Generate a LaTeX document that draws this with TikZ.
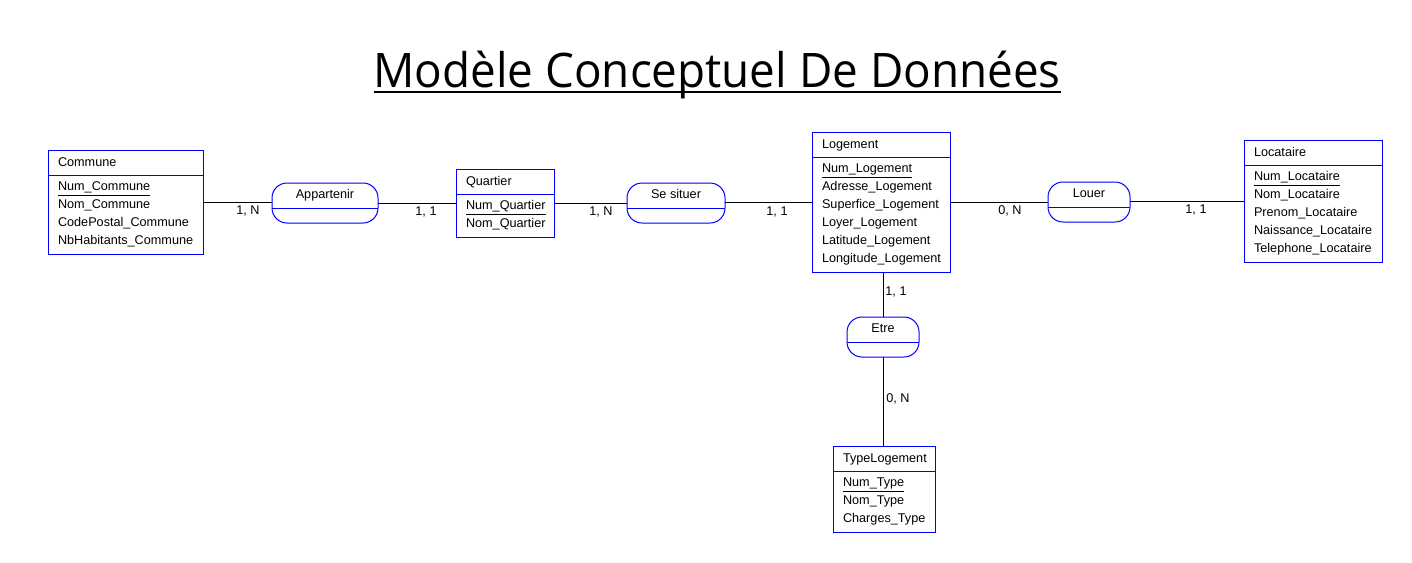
\documentclass[tikz,border=0pt]{standalone}
\usepackage{fontspec}
\setmainfont{Liberation Sans}
\newfontfamily\titlefont{Open Sans}
\begin{document}
\begin{tikzpicture}[x=0.75pt,y=-0.75pt,
  ent/.style={draw=blue,line width=0.75pt,rectangle,inner sep=0pt,outer sep=0pt,anchor=north west},
  rel/.style={draw=blue,line width=0.75pt,rectangle,rounded corners=11.25pt,inner sep=0pt,outer sep=0pt,anchor=north west,minimum height=30pt},
  sep/.style={draw=blue,line width=0.75pt},
  txt/.style={inner sep=0pt,outer sep=0pt,anchor=base west,font=\fontsize{9.5pt}{11pt}\selectfont},
  ctxt/.style={inner sep=0pt,outer sep=0pt,anchor=base,font=\fontsize{9.5pt}{11pt}\selectfont},
  link/.style={draw=black,line width=0.75pt},
  uline/.style={draw=black,line width=0.75pt}
]
\useasboundingbox (0,0) rectangle (1412,562);
\fill[white] (0,0) rectangle (1412,562);

% Title
\node[inner sep=0pt,outer sep=0pt,anchor=base,font=\titlefont\fontsize{35.7pt}{40pt}\selectfont] (title) at (717,87) {\scalebox{0.962}[1]{Modèle Conceptuel De Données}};
\draw[line width=1.9pt] ([yshift=-3.75pt]title.base west) -- ([yshift=-3.75pt]title.base east);

% Commune
\node[ent,minimum width=116.25pt,minimum height=78pt] (commune) at (48,150) {};
\draw[sep] (48,175) -- (203,175);
\node[txt] (communeT) at (58,166) {Commune};
\node[txt] (communeA) at (58,190) {Num\_Commune};
\node[txt] (communeB) at (58,208) {Nom\_Commune};
\node[txt] (communeC) at (58,226) {CodePostal\_Commune};
\node[txt] (communeD) at (58,244) {NbHabitants\_Commune};
\draw[uline] ([yshift=-3.75pt]communeA.base west) -- ([yshift=-3.75pt]communeA.base east);

% Appartenir
\node[rel,minimum width=79.5pt] (appartenir) at (272,183) {};
\draw[sep] (272,208) -- (378,208);
\node[ctxt] (appartenirT) at (325,198) {Appartenir};

% Quartier
\node[ent,minimum width=73.5pt,minimum height=51pt] (quartier) at (456,169) {};
\draw[sep] (456,194) -- (554,194);
\node[txt] (quartierT) at (466,185) {Quartier};
\node[txt] (quartierA) at (466,209) {Num\_Quartier};
\node[txt] (quartierB) at (466,227) {Nom\_Quartier};
\draw[uline] ([yshift=-3.75pt]quartierA.base west) -- ([yshift=-3.75pt]quartierA.base east);

% Se situer
\node[rel,minimum width=73.5pt] (situer) at (627,183) {};
\draw[sep] (627,208) -- (725,208);
\node[ctxt] (situerT) at (676,198) {Se situer};

% Logement
\node[ent,minimum width=103.5pt,minimum height=105pt] (logement) at (812,132) {};
\draw[sep] (812,157) -- (950,157);
\node[txt] (logementT) at (822,148) {Logement};
\node[txt] (logementA) at (822,172) {Num\_Logement};
\node[txt] (logementB) at (822,190) {Adresse\_Logement};
\node[txt] (logementC) at (822,208) {Superfice\_Logement};
\node[txt] (logementD) at (822,226) {Loyer\_Logement};
\node[txt] (logementE) at (822,244) {Latitude\_Logement};
\node[txt] (logementF) at (822,262) {Longitude\_Logement};
\draw[uline] ([yshift=-3.75pt]logementA.base west) -- ([yshift=-3.75pt]logementA.base east);

% Louer
\node[rel,minimum width=61.5pt] (louer) at (1048,182) {};
\draw[sep] (1048,207) -- (1130,207);
\node[ctxt] (louerT) at (1089,197) {Louer};

% Locataire
\node[ent,minimum width=103.5pt,minimum height=91.5pt] (locataire) at (1244,140) {};
\draw[sep] (1244,165) -- (1382,165);
\node[txt] (locataireT) at (1254,156) {Locataire};
\node[txt] (locataireA) at (1254,180) {Num\_Locataire};
\node[txt] (locataireB) at (1254,198) {Nom\_Locataire};
\node[txt] (locataireC) at (1254,216) {Prenom\_Locataire};
\node[txt] (locataireD) at (1254,234) {Naissance\_Locataire};
\node[txt] (locataireE) at (1254,252) {Telephone\_Locataire};
\draw[uline] ([yshift=-3.75pt]locataireA.base west) -- ([yshift=-3.75pt]locataireA.base east);

% Etre
\node[rel,minimum width=54pt] (etre) at (847,317) {};
\draw[sep] (847,342) -- (919,342);
\node[ctxt] (etreT) at (883,332) {Etre};

% TypeLogement
\node[ent,minimum width=76.5pt,minimum height=64.5pt] (type) at (833,446) {};
\draw[sep] (833,471) -- (935,471);
\node[txt] (typeT) at (843,462) {TypeLogement};
\node[txt] (typeA) at (843,486) {Num\_Type};
\node[txt] (typeB) at (843,504) {Nom\_Type};
\node[txt] (typeC) at (843,522) {Charges\_Type};
\draw[uline] ([yshift=-3.75pt]typeA.base west) -- ([yshift=-3.75pt]typeA.base east);

% Links
\draw[link] (commune.east) -- (appartenir.west |- commune.east);
\draw[link] (appartenir.east |- quartier.west) -- (quartier.west);
\draw[link] (quartier.east) -- (situer.west |- quartier.east);
\draw[link] (situer.east |- logement.west) -- (logement.west);
\draw[link] (logement.east) -- (louer.west |- logement.east);
\draw[link] (louer.east |- locataire.west) -- (locataire.west);
\draw[link] (etre.north |- logement.south) -- (etre.north);
\draw[link] (etre.south) -- (etre.south |- type.north);

% Cardinalities
\node[ctxt] (c1) at (248,214) {1, N};
\node[ctxt] (c2) at (426,215) {1, 1};
\node[ctxt] (c3) at (601,215) {1, N};
\node[ctxt] (c4) at (777,215) {1, 1};
\node[ctxt] (c5) at (1010,214) {0, N};
\node[ctxt] (c6) at (1196,213) {1, 1};
\node[ctxt] (c7) at (896,295) {1, 1};
\node[ctxt] (c8) at (898,402) {0, N};
\end{tikzpicture}
\end{document}
